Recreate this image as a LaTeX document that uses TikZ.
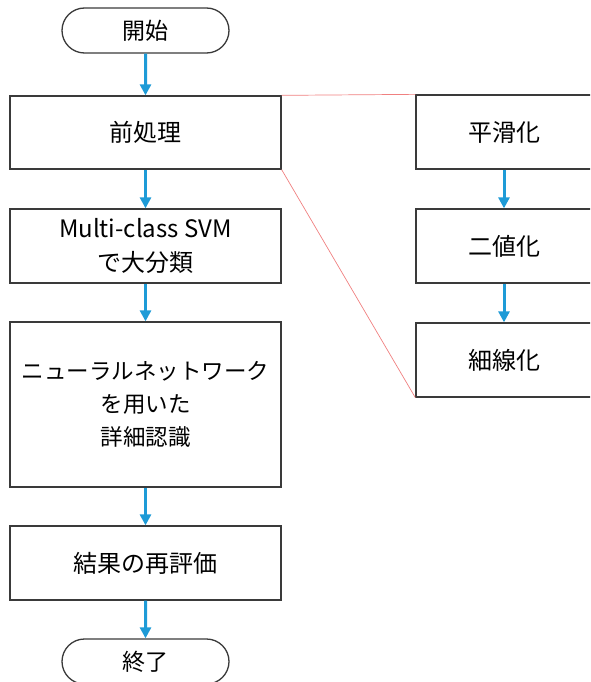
\documentclass[tikz,border=0pt]{standalone}
\usepackage{fontspec}
\setmainfont{Noto Sans CJK JP}
\usetikzlibrary{arrows.meta,shapes.misc}
\definecolor{arrblue}{HTML}{1E9BD7}
\definecolor{boxline}{HTML}{3A3A3A}
\definecolor{zoomred}{HTML}{F08080}
\begin{document}
\begin{tikzpicture}[x=1pt,y=-1pt,
  box/.style={draw=boxline,line width=1.3pt,rectangle,inner sep=0pt,font=\fontsize{24}{34}\selectfont,align=center},
  term/.style={draw=boxline,line width=1.3pt,rounded rectangle,minimum width=167pt,minimum height=45pt,inner sep=0pt,font=\fontsize{23}{30}\selectfont},
  flow/.style={draw=arrblue,line width=3pt,-{Triangle[length=11pt,width=11pt]}},
  zoomline/.style={draw=zoomred,line width=0.7pt}]
\useasboundingbox (0,0) rectangle (590,682);
\begin{scope}
\clip (0,0) rectangle (590,682);
\node[term] (start) at (145.5,30.5) {開始};
\node[box,minimum width=271pt,minimum height=73pt] (pre) at (145.5,132.5) {前処理};
\node[box,minimum width=271pt,minimum height=74pt] (svm) at (145.5,246) {Multi-class SVM\\で大分類};
\node[box,minimum width=271pt,minimum height=165pt,font=\fontsize{22.5}{33}\selectfont] (nn) at (145.5,404.5) {ニューラルネットワーク\\を用いた\\詳細認識};
\node[box,minimum width=271pt,minimum height=74pt] (res) at (145.5,563) {結果の再評価};
\node[term] (end) at (145.5,661.5) {終了};
\node[box,minimum width=176pt,minimum height=74pt] (smooth) at (504,132) {平滑化};
\node[box,minimum width=176pt,minimum height=74pt] (bin) at (504,246) {二値化};
\node[box,minimum width=176pt,minimum height=74pt] (thin) at (504,360) {細線化};
\draw[flow] (start) -- (pre);
\draw[flow] (pre) -- (svm);
\draw[flow] (svm) -- (nn);
\draw[flow] (nn) -- (res);
\draw[flow] (res) -- (end);
\draw[flow] (smooth) -- (bin);
\draw[flow] (bin) -- (thin);
\draw[zoomline] (pre.north east) -- (smooth.north west);
\draw[zoomline] (pre.south east) -- (thin.south west);
\end{scope}
\end{tikzpicture}
\end{document}
